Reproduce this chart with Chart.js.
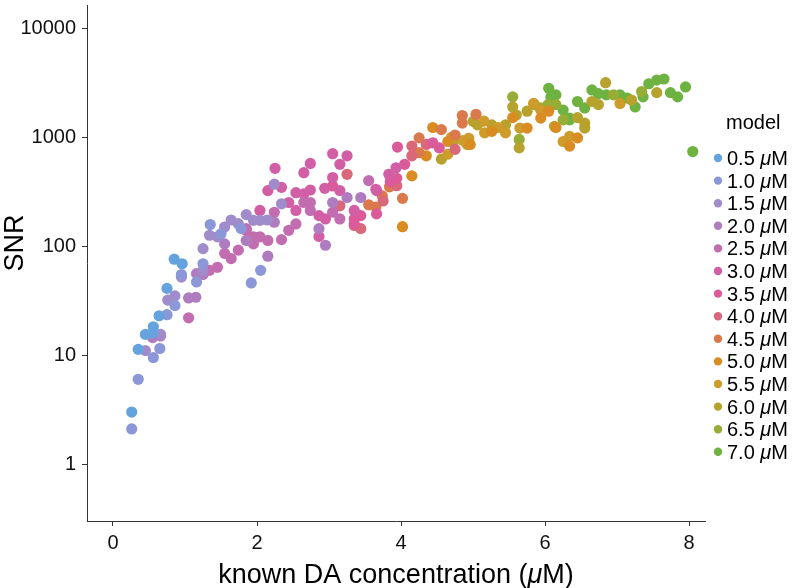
<!DOCTYPE html>
<html>
<head>
<meta charset="utf-8">
<script src="https://cdn.jsdelivr.net/npm/chart.js@4.4.0/dist/chart.umd.min.js"></script>
<style>
  html, body { margin: 0; padding: 0; background: #fff; }
  #wrap { width: 796px; height: 588px; }
</style>
</head>
<body>
<div id="wrap"><canvas id="snrChart" width="796" height="588"></canvas></div>
<script>
// model concentrations (legend) and tick values
var models = ['0.5', '1.0', '1.5', '2.0', '2.5', '3.0', '3.5', '4.0', '4.5', '5.0', '5.5', '6.0', '6.5', '7.0'];
var xTicks = [0, 2, 4, 6, 8];
var yTicks = [1, 10, 100, 1000, 10000];

// points per model: [known DA concentration, SNR]
var m05 = [[0.26,3.0],[0.35,11.3],[0.45,15.5],[0.56,18.2],[0.64,23],[0.75,41],[0.85,76],[0.96,69],[0.55,16]];
var m10 = [[0.26,2.1],[0.35,6.0],[0.56,9.5],[0.65,11.5],[0.75,23.5],[0.86,28.5],[1.16,47],[1.25,69],[1.35,158],[1.92,46],[2.05,60],[1.78,145],[1.5,130],[0.95,55]];
var m15 = [[0.45,11],[0.66,15.5],[0.76,32],[0.86,35],[0.95,52],[1.25,95],[1.34,126],[1.45,122],[1.55,150],[1.64,174],[1.74,161],[1.85,195],[1.95,173],[2.04,173],[2.14,174],[2.34,245],[2.24,371],[1.25,60]];
var m20 = [[0.55,14.5],[1.05,33.5],[1.15,34],[1.16,56],[1.25,55],[1.55,105],[1.85,113],[2.15,81],[2.24,166],[2.86,145],[2.95,102],[3.05,252],[3.25,280],[3.44,280],[0.66,15]];
var m25 = [[1.05,22],[1.34,60],[1.45,64],[1.55,86],[1.64,77],[1.74,92],[1.9,113],[1.85,145],[2.24,205],[1.95,122],[2.04,122],[2.15,113],[1.95,105],[2.34,115],[2.44,140],[2.54,160],[2.65,252],[2.74,252],[2.74,213],[3.05,205],[3.15,178],[3.55,400]];
var m30 = [[1.85,140],[2.04,213],[2.25,519],[2.15,324],[2.34,347],[2.44,252],[2.54,213],[2.54,310],[2.65,473],[2.74,575],[2.65,302],[2.74,328],[2.86,191],[2.86,123],[2.94,340],[2.95,178],[3.05,427],[3.05,707],[3.15,565],[3.25,676],[3.15,324],[3.35,213],[3.65,333],[3.83,457],[3.93,525]];
var m35 = [[3.05,357],[3.35,178],[3.44,191],[3.66,198],[3.95,813],[4.05,565],[4.44,890],[3.94,420],[3.85,390],[3.35,160],[4.53,800],[3.66,324]];
var m40 = [[3.25,457],[3.15,235],[3.35,155],[3.44,145],[3.94,359],[4.15,676],[4.15,830],[4.35,860],[4.75,775],[3.75,260]];
var m45 = [[3.55,240],[3.65,229],[3.74,290],[3.84,351],[4.02,275],[4.25,988],[4.25,722],[4.56,1175],[4.75,1050],[4.85,1585],[5.04,1625],[4.85,1350]];
var m50 = [[4.02,151],[4.15,442],[4.35,676],[4.44,1230],[4.65,915],[4.96,860],[5.26,1135],[5.55,1515],[5.75,1215],[5.94,1500],[6.05,1735],[6.15,1230],[6.34,830],[6.45,988]];
var m55 = [[4.65,700],[4.86,933],[5.15,1410],[5.16,1100],[5.35,1230],[5.45,1100],[5.65,1215],[5.94,1780],[5.84,2045],[6.25,915],[6.34,1020],[7.04,2045],[4.7,1000],[4.94,980]];
var m60 = [[4.56,630],[5.06,1300],[5.26,1300],[5.45,1300],[5.55,1900],[5.64,800],[5.75,1735],[6.13,1260],[6.45,1515],[6.55,1350],[6.55,1215],[6.65,2130],[6.74,1995],[6.84,3170],[7.55,2570],[7.2,2200],[5.0,1400],[5.6,1600],[4.72,915],[4.92,860]];
var m65 = [[5.55,2350],[5.64,955],[5.85,1995],[6.04,1995],[6.15,1995],[6.25,1445],[5.93,1860],[6.95,2450],[7.34,2630]];
var m70 = [[6.08,2350],[6.05,2820],[6.15,2450],[6.25,1780],[6.34,1445],[6.34,1500],[6.45,2130],[6.55,1860],[6.65,2720],[6.74,2515],[6.85,2450],[7.04,2450],[7.14,2290],[7.25,1900],[7.36,2350],[7.44,3100],[7.55,3350],[7.65,3430],[7.74,2570],[7.84,2350],[7.95,2900],[8.05,740]];

var pointSets = [m05, m10, m15, m20, m25, m30, m35, m40, m45, m50, m55, m60, m65, m70];
var palette = ['#64a3dd', '#8b97d6', '#a08ccb', '#b07cc0', '#c36db1', '#d25ea6', '#db5a99',
               '#d9687a', '#da7a4c', '#d98c22', '#cd9c2a', '#b6a22d', '#97ad35', '#6eb342'];

var FONT = '"Liberation Sans", Arial, Helvetica, sans-serif';

var datasets = models.map(function(m, i) {
    return {
        label: m + ' \u03bcM',
        data: pointSets[i].map(function(p) { return { x: p[0], y: p[1] }; }),
        backgroundColor: palette[i],
        borderWidth: 0,
        pointRadius: 5.6,
        pointHoverRadius: 5.6
    };
});

// text with an italic mu, drawn piece by piece
function drawMuText(ctx, before, after, x, y, size, align) {
    var normal = size + 'px ' + FONT;
    var italic = 'italic ' + size + 'px ' + FONT;
    ctx.font = normal;
    var w1 = ctx.measureText(before).width;
    var w3 = ctx.measureText(after).width;
    ctx.font = italic;
    var w2 = ctx.measureText('\u03bc').width;
    var total = w1 + w2 + w3;
    var left = align === 'center' ? x - total / 2 : x;
    ctx.textAlign = 'left';
    ctx.font = normal;
    ctx.fillText(before, left, y);
    ctx.font = italic;
    ctx.fillText('\u03bc', left + w1, y);
    ctx.font = normal;
    ctx.fillText(after, left + w1 + w2, y);
}

var extrasPlugin = {
    id: 'extras',
    afterDraw: function(chart) {
        var ctx = chart.ctx;
        var area = chart.chartArea;
        ctx.save();
        ctx.fillStyle = '#000';
        ctx.textBaseline = 'alphabetic';

        // x axis title
        drawMuText(ctx, 'known DA concentration (', 'M)', (area.left + area.right) / 2, 583, 27, 'center');

        // y axis title
        ctx.save();
        ctx.translate(23, 243);
        ctx.rotate(-Math.PI / 2);
        ctx.font = '27px ' + FONT;
        ctx.textAlign = 'center';
        ctx.fillText('SNR', 0, 0);
        ctx.restore();

        // legend
        ctx.font = '20px ' + FONT;
        ctx.textAlign = 'left';
        ctx.fillText('model', 726, 129);
        chart.data.datasets.forEach(function(ds, i) {
            var cy = 158 + i * 22.6;
            ctx.beginPath();
            ctx.arc(718, cy, 4.2, 0, Math.PI * 2);
            ctx.fillStyle = ds.backgroundColor;
            ctx.fill();
            ctx.fillStyle = '#000';
            drawMuText(ctx, models[i] + ' ', 'M', 727, cy + 7, 20, 'left');
        });
        ctx.restore();
    }
};

var ctx = document.getElementById('snrChart').getContext('2d');
var snrChart = new Chart(ctx, {
    type: 'scatter',
    data: { datasets: datasets },
    plugins: [extrasPlugin],
    options: {
        responsive: false,
        animation: false,
        devicePixelRatio: 1,
        layout: { padding: { top: 3, right: 91, left: 0, bottom: 0 } },
        plugins: {
            legend: { display: false },
            tooltip: { enabled: false }
        },
        scales: {
            x: {
                type: 'linear',
                min: -0.361,
                max: 8.22,
                afterBuildTicks: function(scale) {
                    scale.ticks = xTicks.map(function(v) { return { value: v }; });
                },
                afterFit: function(scale) {
                    scale.height = 67;
                    scale.paddingLeft = 0;
                    scale.paddingRight = 0;
                },
                ticks: {
                    font: { family: FONT, size: 20 },
                    color: '#111',
                    padding: 5,
                    maxRotation: 0,
                    autoSkip: false,
                    callback: function(v) { return String(v); }
                },
                grid: { drawOnChartArea: false, drawTicks: true, tickLength: 5, color: '#333' },
                border: { display: true, color: '#333', width: 1 }
            },
            y: {
                type: 'logarithmic',
                min: Math.pow(10, -0.5),
                max: Math.pow(10, 4.209),
                afterBuildTicks: function(scale) {
                    scale.ticks = yTicks.map(function(v) { return { value: v }; });
                },
                afterFit: function(scale) {
                    scale.width = 87;
                    scale.paddingTop = 0;
                    scale.paddingBottom = 0;
                },
                ticks: {
                    font: { family: FONT, size: 20 },
                    color: '#111',
                    padding: 6,
                    autoSkip: false,
                    callback: function(v) { return String(v); }
                },
                grid: { drawOnChartArea: false, drawTicks: true, tickLength: 5, color: '#333' },
                border: { display: true, color: '#333', width: 1 }
            }
        }
    }
});
</script>
</body>
</html>
